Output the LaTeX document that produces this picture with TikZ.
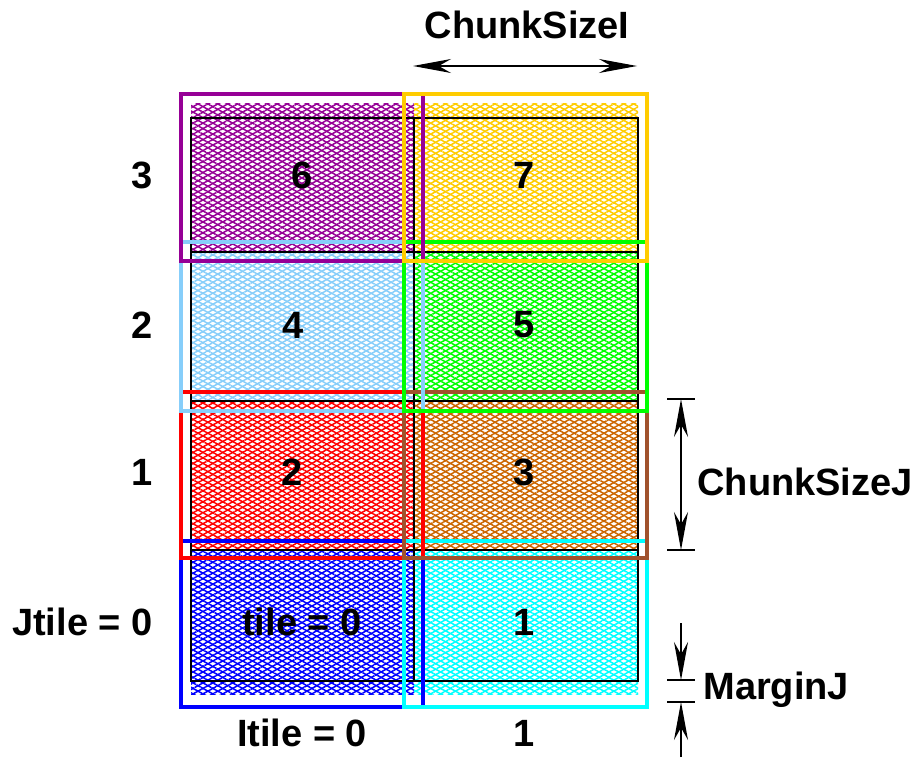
\documentclass[tikz,border=0pt]{standalone}
\usepackage{fontspec}
\setmainfont{Liberation Sans}
\usetikzlibrary{patterns.meta,arrows.meta}
\definecolor{tpurple}{RGB}{150,0,150}
\definecolor{tgold}{RGB}{255,204,0}
\definecolor{tsky}{RGB}{135,206,250}
\definecolor{tgreen}{RGB}{0,255,0}
\definecolor{tred}{RGB}{255,0,0}
\definecolor{tbrown}{RGB}{204,102,0}
\definecolor{tsienna}{RGB}{160,82,45}
\definecolor{tblue}{RGB}{0,0,255}
\definecolor{tcyan}{RGB}{0,255,255}
\begin{document}
\begin{tikzpicture}[x=0.5pt,y=0.5pt,
    lab/.style={font=\bfseries\fontsize{19}{22}\selectfont,inner sep=0pt},
    hatchup/.style={pattern={Lines[angle=29,distance=2.4pt,line width=0.75pt]},pattern color=#1},
    hatchdown/.style={pattern={Lines[angle=-29,distance=2.4pt,line width=0.75pt]},pattern color=#1},
    halo/.style={draw=#1,line width=1.8pt},
    dimbar/.style={line width=0.75pt},
    dimboth/.style={line width=0.75pt,{Stealth[length=19pt,width=7pt]}-{Stealth[length=19pt,width=7pt]}},
    dimone/.style={line width=0.75pt,-{Stealth[length=19pt,width=7pt]}}]
    \useasboundingbox (0,0) rectangle (914,757);
    % hatched interiors
    \foreach \xa/\xb/\ya/\yb/\fc in {191/414/63/207/tblue,414/638/63/207/tcyan,
        191/414/207/356/tred,414/638/207/356/tbrown,191/414/356/505/tsky,
        414/638/356/505/tgreen,191/414/505/654/tpurple,414/638/505/654/tgold}{
        \fill[hatchup=\fc] (\xa,\ya) rectangle (\xb,\yb);
        \fill[hatchdown=\fc] (\xa,\ya) rectangle (\xb,\yb);
    }
    % domain and tile lines
    \draw[line width=0.6pt] (191,76) rectangle (638,639);
    \draw[line width=0.6pt] (414,76)--(414,639);
    \draw[line width=0.6pt] (191,505)--(638,505);
    \draw[line width=0.6pt] (191,356)--(638,356);
    \draw[line width=0.6pt] (191,207)--(638,207);
    % tiles with margins
    \foreach \xa/\xb/\ya/\yb/\oc in {181/423/50/216/tblue,404/647/50/216/tcyan,
        181/423/199/365/tred,404/647/199/365/tsienna,181/423/346/515/tsky,
        404/647/346/515/tgreen,181/423/496/663/tpurple,404/647/496/663/tgold}{
        \draw[halo=\oc] (\xa,\ya) rectangle (\xb,\yb);
    }
    % tile numbers
    \node[lab] (tile0) at (302,135) {tile = 0};
    \node[lab] (tile1) at (524,135) {1};
    \node[lab] (tile2) at (292,285) {2};
    \node[lab] (tile3) at (524,285) {3};
    \node[lab] (tile4) at (293,432) {4};
    \node[lab] (tile5) at (524,432) {5};
    \node[lab] (tile6) at (302,582) {6};
    \node[lab] (tile7) at (524,582) {7};
    % Jtile / Itile
    \node[lab,anchor=east] (jt0) at (153,135) {Jtile = 0};
    \node[lab,anchor=east] (jt1) at (153,285) {1};
    \node[lab,anchor=east] (jt2) at (153,432) {2};
    \node[lab,anchor=east] (jt3) at (153,582) {3};
    \node[lab] (it0) at (302,24) {Itile = 0};
    \node[lab] (it1) at (524,24) {1};
    % ChunkSizeI
    \node[lab] (csi) at (527,732) {ChunkSizeI};
    \coordinate (csia) at (413,691);
    \coordinate (csib) at (637,691);
    \draw[dimboth] (csia)--(csib);
    % ChunkSizeJ
    \coordinate (cjt) at (681,358);
    \coordinate (cjb) at (681,207);
    \draw[dimbar] (667,358)--(695,358);
    \draw[dimbar] (667,207)--(695,207);
    \draw[dimboth] (cjt)--(cjb);
    \node[lab,anchor=west] (csj) at (697,275) {ChunkSizeJ};
    % MarginJ
    \coordinate (mjt) at (681,77);
    \coordinate (mjb) at (681,55);
    \coordinate (mjta) at (681,134);
    \coordinate (mjba) at (681,0);
    \draw[dimbar] (667,77)--(695,77);
    \draw[dimbar] (667,55)--(695,55);
    \draw[dimone] (mjta)--(mjt);
    \draw[dimone] (mjba)--(mjb);
    \node[lab,anchor=west] (mj) at (703,67) {MarginJ};
\end{tikzpicture}
\end{document}
